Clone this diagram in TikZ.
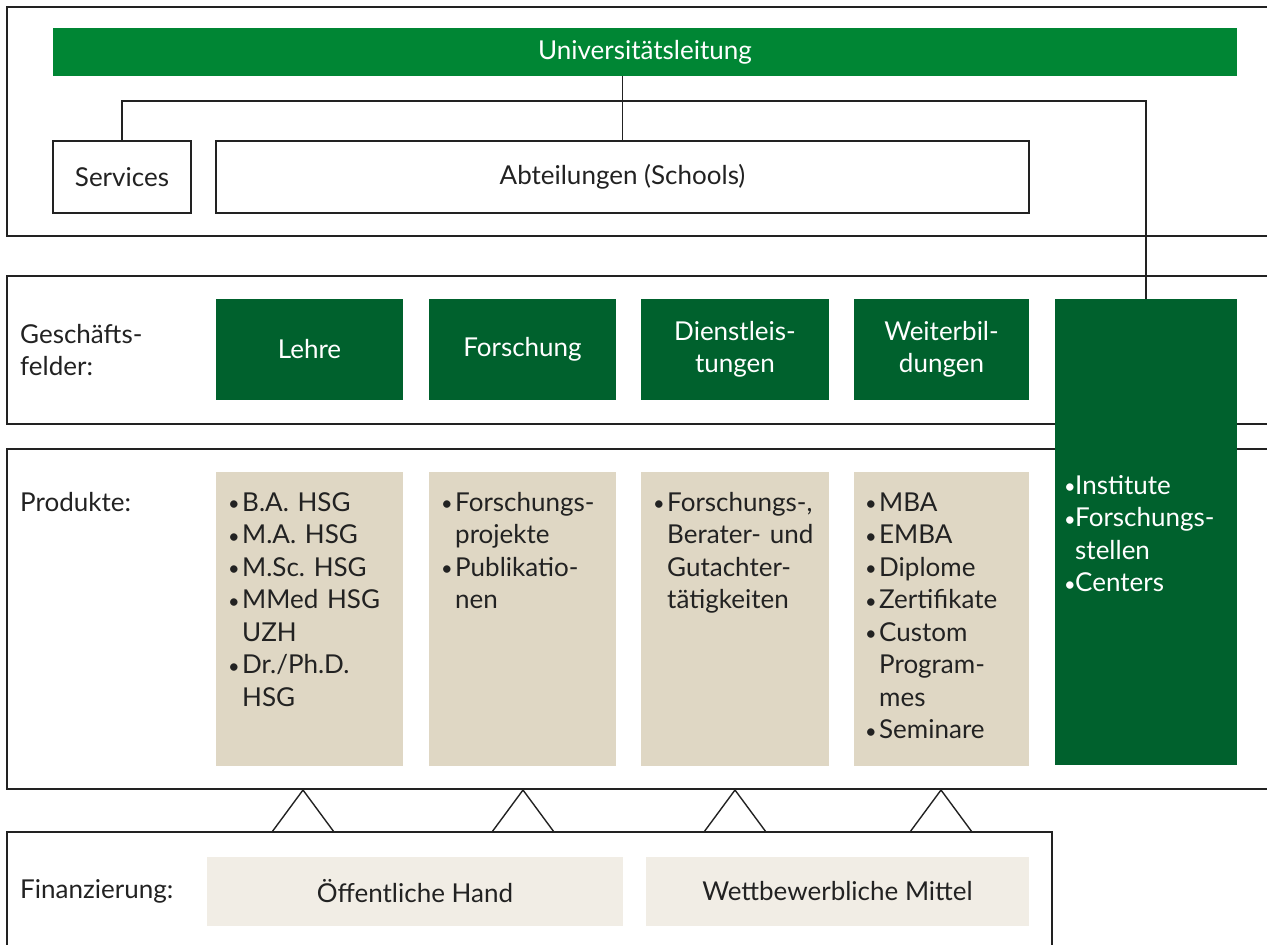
\documentclass[tikz,border=0pt]{standalone}
\usepackage{fontspec}
\setmainfont{Lato}
\usetikzlibrary{positioning}

\definecolor{leitgreen}{HTML}{008634}
\definecolor{fieldgreen}{HTML}{00612D}
\definecolor{prodtan}{HTML}{DFD7C4}
\definecolor{finbeige}{HTML}{F1EDE5}
\definecolor{inkgray}{HTML}{222222}

% bullet items with hanging indent (\newline keeps the hang)
\newcommand{\smallbullet}{\raisebox{0.5pt}{\fontsize{20}{20}\selectfont\textbullet}}
\newcommand{\pitem}[1]{\hangindent=14pt\hangafter=1\noindent\makebox[14pt][l]{\smallbullet}#1\par}
\newcommand{\gitem}[1]{\hangindent=11pt\hangafter=1\noindent\makebox[11pt][l]{\smallbullet}#1\par}

\tikzset{
  txt/.style={font=\fontsize{26}{32.5}\selectfont\frenchspacing, text=inkgray},
  frame/.style={draw=inkgray, line width=2.2pt},
  conn/.style={draw=inkgray, line width=1.6pt},
  tri/.style={draw=inkgray, line width=1.4pt},
  orgbox/.style={txt, draw=inkgray, line width=1.8pt, minimum height=72pt, inner sep=0pt},
  leitbox/.style={txt, text=white, fill=leitgreen, minimum width=1184pt, minimum height=48pt, inner sep=0pt},
  fieldbox/.style={txt, text=white, fill=fieldgreen, minimum height=101pt, inner sep=0pt, align=center},
  prodbox/.style={fill=prodtan, minimum height=294pt, inner sep=0pt},
  finbox/.style={txt, fill=finbeige, minimum height=69pt, inner sep=0pt},
  listtext/.style={txt, anchor=base west, inner sep=0pt, text width=#1, align=left},
  rowlabel/.style={txt, inner sep=0pt, align=left}
}

\begin{document}
\begin{tikzpicture}[x=1pt, y=-1pt]
  \useasboundingbox (0,0) rectangle (1267,945);

  % Frames (open to the right)
  \draw[frame] (1267,7) -- (7,7) -- (7,236) -- (1267,236);
  \draw[frame] (1267,276) -- (7,276) -- (7,424) -- (1267,424);
  \draw[frame] (1267,449) -- (7,449) -- (7,789) -- (1267,789);
  \draw[frame] (7,945) -- (7,832) -- (1052,832) -- (1052,945);

  % Leitung and organisation
  \node[leitbox] (leitung) at (645,52) {Universitätsleitung};
  \node[orgbox, minimum width=138pt] (svc) at (122,177) {Services};
  \node[orgbox, minimum width=813pt] (abt) at (622.5,177) {Abteilungen (Schools)};

  % Row labels
  \node[rowlabel, anchor=west] (gf) at (20,350) {Geschäfts-\\felder:};
  \node[rowlabel, anchor=base west] (pr) at (20,511) {Produkte:};
  \node[rowlabel, anchor=west] (fin) at (20,891) {Finanzierung:};

  % Geschaeftsfelder
  \node[fieldbox, minimum width=187pt] (lehre) at (309.5,349.5) {Lehre};
  \node[fieldbox, minimum width=187pt] (forsch) at (522.5,349.5) {Forschung};
  \node[fieldbox, minimum width=188pt] (dienst) at (735,349.5) {Dienstleis-\\tungen};
  \node[fieldbox, minimum width=175pt] (weiter) at (941.5,349.5) {Weiterbil-\\dungen};
  \node[fill=fieldgreen, minimum width=182pt, minimum height=466pt, inner sep=0pt] (inst) at (1146,532) {};
  \node[listtext=170pt, text=white] (instL) at (1064,494)
    {\gitem{Institute}\gitem{Forschungs-\newline stellen}\gitem{Centers}};

  % Produkte
  \node[prodbox, minimum width=187pt] (lehreP) at (309.5,619) {};
  \node[prodbox, minimum width=187pt] (forschP) at (522.5,619) {};
  \node[prodbox, minimum width=188pt] (dienstP) at (735,619) {};
  \node[prodbox, minimum width=175pt] (weiterP) at (941.5,619) {};
  \node[listtext=180pt] (lehreL) at (228,511)
    {\pitem{B.A. HSG}\pitem{M.A. HSG}\pitem{M.Sc. HSG}\pitem{MMed HSG\newline UZH}\pitem{Dr./Ph.D.\newline HSG}};
  \node[listtext=180pt] (forschL) at (441,511)
    {\pitem{Forschungs-\newline projekte}\pitem{Publikatio-\newline nen}};
  \node[listtext=180pt] (dienstL) at (653,511)
    {\pitem{Forschungs-,\newline Berater- und\newline Gutachter-\newline tätigkeiten}};
  \node[listtext=170pt] (weiterL) at (865,511)
    {\pitem{MBA}\pitem{EMBA}\pitem{Diplome}\pitem{Zertifikate}\pitem{Custom\newline Program-\newline mes}\pitem{Seminare}};

  % Finanzierung
  \node[finbox, minimum width=416pt] (oeff) at (415,891.5) {Öffentliche Hand};
  \node[finbox, minimum width=383pt] (wett) at (837.5,891.5) {Wettbewerbliche Mittel};

  % Connectors
  \coordinate (bus) at (626,101);
  \draw[conn] (abt.north) -- (abt.north |- leitung.south);
  \draw[conn] (svc.north) |- (bus) -| (inst.north);

  % Triangles between Produkte and Finanzierung
  \foreach \x in {303,523,735,941}
    \draw[tri] (\x-31,832) -- (\x,790) -- (\x+31,832);
\end{tikzpicture}
\end{document}
